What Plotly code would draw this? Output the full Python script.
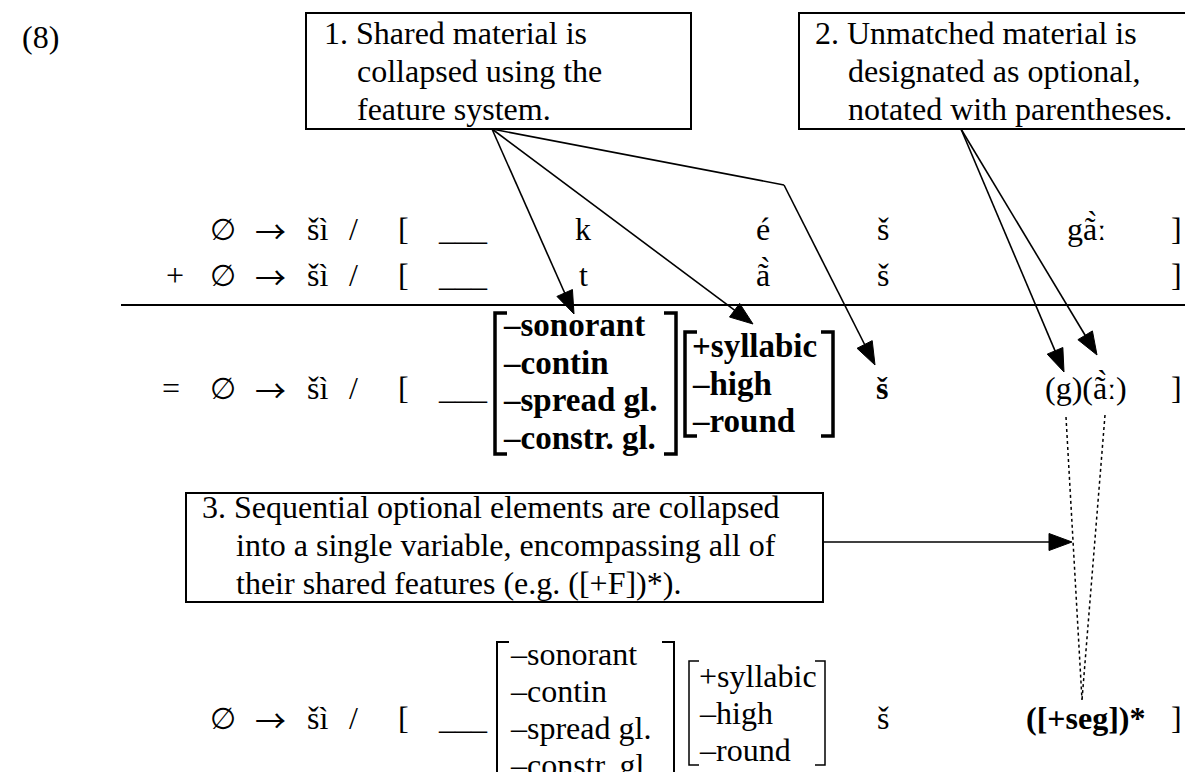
import math
import plotly.graph_objects as go

W, H = 1193, 772
FONT = "Liberation Serif, Times New Roman, serif"
SYMFONT = "DejaVu Sans, Liberation Serif, serif"
ARROWFONT = "Noto Sans CJK SC, DejaVu Sans, serif"
FS = 32

# ---- text content ----
label = "(8)"
box1_lines = ["1. Shared material is", "collapsed using the", "feature system."]
box2_lines = ["2. Unmatched material is", "designated as optional,", "notated with parentheses."]
box3_lines = ["3. Sequential optional elements are collapsed",
              "into a single variable, encompassing all of",
              "their shared features (e.g. ([+F])*)."]

rule_prefix = ["∅", "→", "šì", "/", "[", "___"]
prefix_x = [215, 262, 309, 345, 395, 455]

row1_tail = ["k", "é", "š", "ga\u0303\u0300ː", "]"]
row2_tail = ["t", "a\u0303\u0300", "š", "", "]"]
tail_x = [575, 755, 875, 1078, 1168]

row3_tail = ["<b>š</b>", "(g)(a\u0303\u0300ː)", "]"]
row3_tail_x = [874, 1078, 1168]
row4_tail = ["š", "<b>([+seg])*</b>", "]"]
row4_tail_x = [875, 1078, 1168]

matrix1 = ["–sonorant", "–contin", "–spread gl.", "–constr. gl."]
matrix2 = ["+syllabic", "–high", "–round"]

# ---- layout positions ----
row_y = [221, 267, 380, 710]
rule_line_y = 297

shapes = []
ann = []


def txt(x, y, s, xanchor="center", size=FS, family=FONT):
    ann.append(dict(x=x, y=y, xref="x", yref="y", text=s, showarrow=False,
                    xanchor=xanchor, yanchor="middle",
                    font=dict(family=family, size=size, color="black")))


def line(x0, y0, x1, y1, w=1.5, dash="solid"):
    shapes.append(dict(type="line", xref="x", yref="y", x0=x0, y0=y0, x1=x1, y1=y1,
                       line=dict(color="black", width=w, dash=dash)))


def rect(x0, y0, x1, y1, w=2):
    shapes.append(dict(type="rect", xref="x", yref="y", x0=x0, y0=y0, x1=x1, y1=y1,
                       line=dict(color="black", width=w), fillcolor="rgba(0,0,0,0)"))


def head(xs, ys, xe, ye, L=23, Wd=17):
    dx, dy = xe - xs, ye - ys
    n = math.hypot(dx, dy)
    ux, uy = dx / n, dy / n
    bx, by = xe - ux * L, ye - uy * L
    px, py = -uy * Wd / 2, ux * Wd / 2
    shapes.append(dict(type="path", xref="x", yref="y",
                       path=f"M {xe},{ye} L {bx+px},{by+py} L {bx-px},{by-py} Z",
                       fillcolor="black", line=dict(color="black", width=1)))
    return bx + ux * 2, by + uy * 2


def arrow(points, w=1.6):
    for (a, b), (c, d) in zip(points[:-2], points[1:-1]):
        line(a, b, c, d, w)
    (xs, ys), (xe, ye) = points[-2], points[-1]
    bx, by = head(xs, ys, xe, ye)
    line(xs, ys, bx, by, w)


def bracket(x, y0, y1, side, w, tick=12):
    d = tick if side == "L" else -tick
    path = f"M {x+d},{y0} L {x},{y0} L {x},{y1} L {x+d},{y1}"
    shapes.append(dict(type="path", xref="x", yref="y", path=path,
                       line=dict(color="black", width=w)))


# label
txt(32, 29, label)

# box 1
rect(298, 5, 683, 121)
for i, s in enumerate(box1_lines):
    txt(314 if i == 0 else 347, 25 + 38 * i, s, xanchor="left")
# box 2
rect(791, 5, 1181, 121)
for i, s in enumerate(box2_lines):
    txt(805 if i == 0 else 838, 25 + 38 * i, s, xanchor="left")
# box 3
rect(178, 485, 815, 594)
for i, s in enumerate(box3_lines):
    txt(192 if i == 0 else 226, 499 + 38 * i, s, xanchor="left")

# rule rows
for r, y in enumerate(row_y):
    for s, x in zip(rule_prefix, prefix_x):
        if s == "∅":
            txt(x, y, s, size=30, family=SYMFONT)
        elif s == "→":
            txt(x, y, s, size=31, family=ARROWFONT)
        else:
            txt(x, y, s)
txt(167, row_y[1], "+")
txt(163, row_y[2], "=")
for s, x in zip(row1_tail, tail_x):
    if s:
        txt(x, row_y[0], s)
for s, x in zip(row2_tail, tail_x):
    if s:
        txt(x, row_y[1], s)
for s, x in zip(row3_tail, row3_tail_x):
    txt(x, row_y[2], s)
for s, x in zip(row4_tail, row4_tail_x):
    txt(x, row_y[3], s)

# horizontal rule
line(113, rule_line_y, W, rule_line_y, 2)

# matrices (bold, row 3)
bracket(487, 305, 446, "L", 3.5)
bracket(668, 305, 446, "R", 3.5)
for i, s in enumerate(matrix1):
    txt(493, 317 + 37.5 * i, "<b>" + s + "</b>", xanchor="left", size=33)
bracket(677, 324, 428, "L", 3.5)
bracket(825, 324, 428, "R", 3.5)
for i, s in enumerate(matrix2):
    txt(682, 338 + 37.5 * i, "<b>" + s + "</b>", xanchor="left", size=33)

# matrices (regular, bottom row)
bracket(489, 634, 767, "L", 2)
bracket(666, 634, 767, "R", 2)
for i, s in enumerate(matrix1):
    txt(500, 646 + 37 * i, s, xanchor="left")
bracket(681, 653, 757, "L", 1.5, tick=10)
bracket(817, 653, 757, "R", 1.5, tick=10)
for i, s in enumerate(matrix2):
    txt(689, 668 + 37 * i, s, xanchor="left")

# arrows from box 1
o1 = (484, 121)
arrow([o1, (566, 306)])
arrow([o1, (745, 316)])
arrow([o1, (776, 177), (867, 357)])
# arrows from box 2
o2 = (953, 121)
arrow([o2, (1056, 364)])
arrow([o2, (1089, 347)])
# arrow from box 3
arrow([(815, 534), (1064, 534)])

# dotted lines
line(1058, 409, 1074, 692, 1.5, "dot")
line(1097, 407, 1074, 692, 1.5, "dot")

fig = go.Figure()
fig.update_layout(
    width=W, height=H, margin=dict(l=0, r=0, t=0, b=0),
    paper_bgcolor="white", plot_bgcolor="white",
    xaxis=dict(range=[0, W], visible=False, fixedrange=True),
    yaxis=dict(range=[H, 0], visible=False, fixedrange=True),
    shapes=shapes, annotations=ann, showlegend=False,
)
fig.write_html("out.html")
